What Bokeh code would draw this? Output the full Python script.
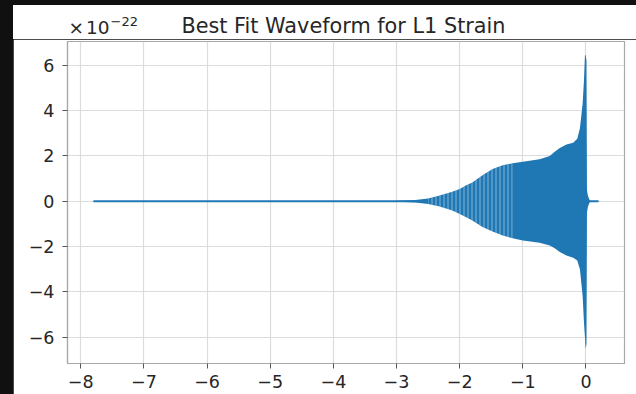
from bokeh.plotting import figure
from bokeh.models import Range1d, FixedTicker, Div, GlobalInlineStyleSheet
from bokeh.layouts import column
from bokeh.embed import file_html
from bokeh.resources import INLINE

# ---- data ----
line_t = [-7.8, 0.2]
line_h = [0.0, 0.0]

env_t = [-3.1, -2.9, -2.7, -2.5, -2.33, -2.117, -2.0, -1.904, -1.80, -1.638, -1.479,
         -1.319, -1.16, -1.0, -0.734, -0.574, -0.495, -0.415, -0.309, -0.202, -0.138,
         -0.096, -0.053, -0.032, -0.016, -0.005, 0.008, 0.016, 0.03, 0.05, 0.07]
env_upper = [0.0, 0.03, 0.06, 0.12, 0.24, 0.42, 0.54, 0.69, 0.83, 1.15, 1.42,
             1.59, 1.68, 1.74, 1.85, 2.0, 2.18, 2.35, 2.5, 2.58, 2.76,
             3.22, 4.3, 5.33, 6.44, 6.44, 6.2, 0.5, 0.25, 0.1, 0.0]
env_lower = [0.0, -0.03, -0.06, -0.12, -0.22, -0.41, -0.56, -0.70, -0.85, -1.14, -1.33,
             -1.51, -1.63, -1.73, -1.83, -1.95, -2.07, -2.24, -2.39, -2.49, -2.61,
             -3.0, -4.17, -5.34, -6.0, -6.52, -6.3, -0.5, -0.25, -0.1, 0.0]
# portion of the waveform where individual cycles are still resolved (striped look)
striped_from, striped_to = 3, 13

x_ticks = [-8, -7, -6, -5, -4, -3, -2, -1, 0]
x_tick_labels = ["\u22128", "\u22127", "\u22126", "\u22125", "\u22124", "\u22123", "\u22122", "\u22121", "0"]
y_ticks = [-6, -4, -2, 0, 2, 4, 6]
y_tick_labels = ["\u22126", "\u22124", "\u22122", "0", "2", "4", "6"]

title_text = "Best Fit Waveform for L1 Strain"
scale_times = "\u00d7"
scale_base = "10"
scale_exp = "\u221222"

# ---- styling ----
FONT = "DejaVu Sans"
TXT = "#262626"
SPINE = "#a8a8a8"
W = 623
HEAD_H = 34

base = "position:absolute;white-space:nowrap;line-height:1;font-family:'DejaVu Sans';color:%s;" % TXT
head_html = (
    '<div style="position:relative;width:%dpx;height:%dpx;background:white;">' % (W, HEAD_H)
    + '<div style="%sleft:330.5px;top:11px;font-size:20.8px;transform:translateX(-50%%);">%s</div>'
      % (base, title_text)
    + '<div style="%sleft:55.5px;top:14.4px;font-size:18.5px;">'
      '<span style="margin-right:2px;">%s</span>%s'
      '<span style="font-size:13px;position:relative;top:-8px;margin-left:1px;">%s</span></div>'
      % (base, scale_times, scale_base, scale_exp)
    + '</div>'
)
head = Div(text=head_html, width=W, height=HEAD_H, margin=0,
           styles={"background-color": "white", "overflow": "visible"})

p = figure(width=W, height=389 - HEAD_H, output_backend="svg", toolbar_location=None,
           x_range=Range1d(-8.21, 0.61), y_range=Range1d(-7.16, 7.05),
           min_border_left=54, min_border_right=12, min_border_top=2, min_border_bottom=31,
           margin=0)
p.background_fill_color = "white"
p.border_fill_color = "white"
p.outline_line_color = SPINE
p.outline_line_width = 1.2

for g in (p.xgrid, p.ygrid):
    g.grid_line_color = "#dcdcdc"
    g.grid_line_width = 1.2

p.xaxis.ticker = FixedTicker(ticks=x_ticks)
p.yaxis.ticker = FixedTicker(ticks=y_ticks)
p.xaxis.major_label_overrides = dict(zip(x_ticks, x_tick_labels))
p.yaxis.major_label_overrides = dict(zip(y_ticks, y_tick_labels))
for ax in (p.xaxis, p.yaxis):
    ax.minor_tick_line_color = None
    ax.major_tick_in = 0
    ax.major_tick_out = 5
    ax.major_tick_line_color = "#555555"
    ax.major_tick_line_width = 1
    ax.axis_line_color = SPINE
    ax.axis_line_width = 1.2
    ax.major_label_text_font = FONT
    ax.major_label_text_font_size = "17.5px"
    ax.major_label_text_color = TXT
p.xaxis.major_label_standoff = 6
p.yaxis.major_label_standoff = 8

C0 = "#1f77b4"
p.line(line_t, line_h, line_color=C0, line_width=1.8)
p.varea(x=env_t, y1=env_lower, y2=env_upper, fill_color=C0)
s = slice(striped_from, striped_to)
p.varea(x=env_t[s], y1=env_lower[s], y2=env_upper[s], fill_alpha=0,
        hatch_pattern="vertical_line", hatch_color="white", hatch_alpha=0.45,
        hatch_scale=4, hatch_weight=1)

layout = column(head, p, spacing=0, margin=0)
layout.stylesheets = [GlobalInlineStyleSheet(css="html,body{margin:0;padding:0;background:#101010 !important;overflow:hidden;} body{padding:5px 0 0 13px !important;}")]

open("out.html", "w").write(file_html(layout, INLINE))
